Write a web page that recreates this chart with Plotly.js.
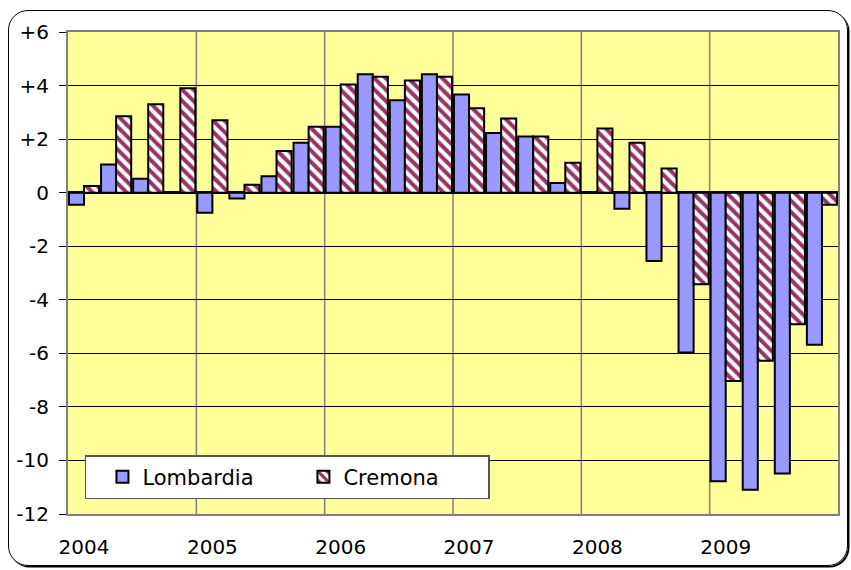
<!DOCTYPE html>
<html><head><meta charset="utf-8">
<script src="https://cdn.plot.ly/plotly-3.0.1.min.js"></script>
<style>
html,body{margin:0;padding:0;background:#fff;overflow:hidden;}
#wrap{position:relative;width:851px;height:570px;}
#chart{width:851px;height:570px;}
#frame{position:absolute;left:8px;top:10px;width:838px;height:554px;border:1.5px solid #000;border-radius:20px;pointer-events:none;box-shadow:1.5px 1.5px 0 #000;}
</style></head>
<body><div id="wrap"><div id="chart"></div><div id="frame"></div></div>
<script>
const years = ['2004','2005','2006','2007','2008','2009'];
const quarters = ['2004 T1','2004 T2','2004 T3','2004 T4','2005 T1','2005 T2','2005 T3','2005 T4',
  '2006 T1','2006 T2','2006 T3','2006 T4','2007 T1','2007 T2','2007 T3','2007 T4',
  '2008 T1','2008 T2','2008 T3','2008 T4','2009 T1','2009 T2','2009 T3','2009 T4'];
const lombardia = [-0.45, 1.05, 0.52, 0.0, -0.75, -0.22, 0.61, 1.86,
  2.46, 4.42, 3.45, 4.42, 3.67, 2.23, 2.1, 0.36,
  0.0, -0.6, -2.55, -5.97, -10.78, -11.09, -10.49, -5.68];
const cremona = [0.25, 2.85, 3.3, 3.9, 2.7, 0.3, 1.56, 2.46,
  4.04, 4.33, 4.19, 4.33, 3.15, 2.77, 2.1, 1.12,
  2.4, 1.86, 0.9, -3.42, -7.03, -6.28, -4.91, -0.45];
const yTickVals = [6, 4, 2, 0, -2, -4, -6, -8, -10, -12];
const yTickText = ['+6', '+4', '+2', '0', '-2', '-4', '-6', '-8', '-10', '-12'];

const xIdx = quarters.map((q, i) => i);
const FONT = 'DejaVu Sans, Liberation Sans, Arial, sans-serif';

const traces = [
  {type: 'bar', name: 'Lombardia', x: xIdx, y: lombardia, text: quarters, hoverinfo: 'text+y',
   marker: {color: '#9999FF', line: {color: '#000', width: 2}}},
  {type: 'bar', name: 'Cremona', x: xIdx, y: cremona, text: quarters, hoverinfo: 'text+y',
   marker: {color: '#FFFFFF', line: {color: '#000', width: 2},
     pattern: {shape: '\\', fgcolor: '#993366', bgcolor: '#FFFFFF', size: 8, solidity: 0.5}}}
];
traces.forEach(t => { t.textposition = 'none'; });

const shapes = years.slice(1).map((y, i) => ({
  type: 'line', xref: 'x', yref: 'paper', x0: (i + 1) * 4 - 0.5, x1: (i + 1) * 4 - 0.5, y0: 0, y1: 1,
  line: {color: '#808080', width: 1.5}, layer: 'below'
}));

const layout = {
  width: 851, height: 570,
  margin: {l: 68, r: 13, t: 32, b: 56},
  paper_bgcolor: '#FFFFFF', plot_bgcolor: '#FFFF99',
  barmode: 'group', bargap: 0.06, bargroupgap: 0,
  font: {family: FONT, color: '#000', size: 20},
  showlegend: true,
  legend: {orientation: 'h', x: 0.022, y: 0.122, xanchor: 'left', yanchor: 'top',
    bgcolor: '#FFFFFF', bordercolor: '#555', borderwidth: 1.5, indentation: 16,
    font: {family: FONT, size: 21, color: '#000'},
    entrywidth: 140, entrywidthmode: 'pixels', traceorder: 'normal'},
  xaxis: {range: [-0.5, 23.5], tickmode: 'array', tickvals: years.map((y, i) => i * 4), ticktext: years,
    showgrid: false, zeroline: false, ticks: '', showline: true, mirror: true, linecolor: '#808080', linewidth: 2,
    ticklabelstandoff: 14,
    tickfont: {family: FONT, size: 20, color: '#000'}, fixedrange: true},
  yaxis: {range: [-12, 6], tickmode: 'array', tickvals: yTickVals, ticktext: yTickText,
    showgrid: true, gridcolor: '#000', gridwidth: 1,
    zeroline: true, zerolinecolor: '#000', zerolinewidth: 3,
    ticks: 'outside', ticklen: 7, tickcolor: '#000', tickwidth: 1,
    showline: true, mirror: true, linecolor: '#808080', linewidth: 2,
    ticklabelstandoff: 6,
    tickfont: {family: FONT, size: 20, color: '#000'}, fixedrange: true},
  shapes: shapes
};

Plotly.newPlot('chart', traces, layout, {displayModeBar: false, staticPlot: true});
</script>
</body></html>
